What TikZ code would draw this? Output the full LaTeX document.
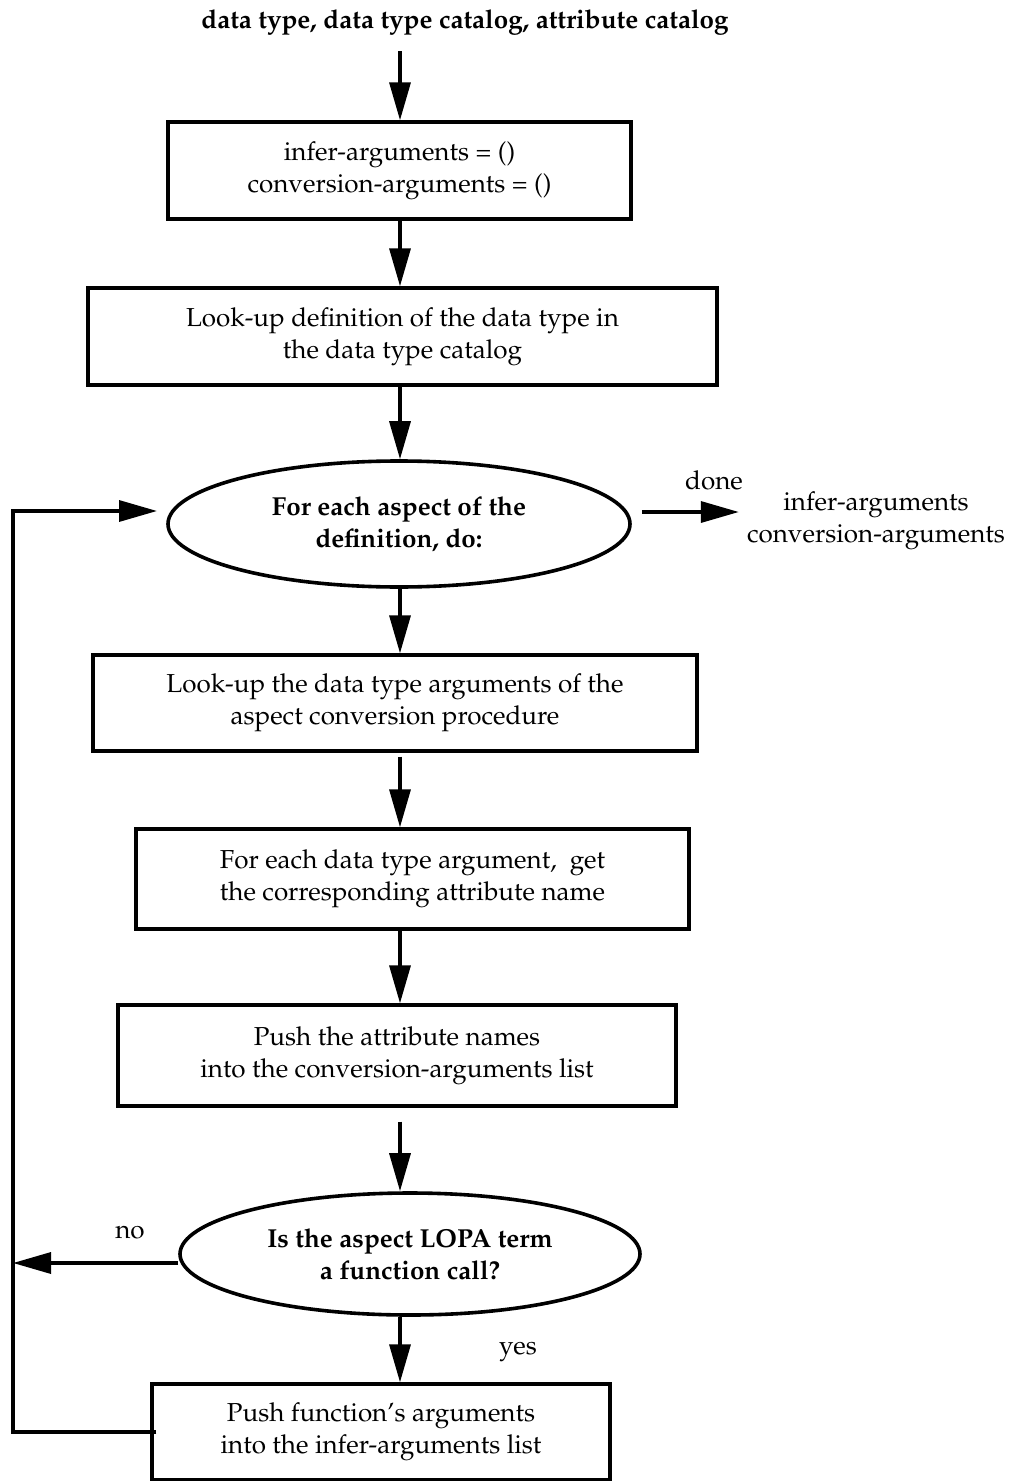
\documentclass[tikz,border=0pt]{standalone}
\usepackage[T1]{fontenc}
\usetikzlibrary{shapes.geometric,arrows.meta,calc}
\renewcommand{\rmdefault}{ppl}
\begin{document}
\begin{tikzpicture}[x=0.5pt,y=-0.5pt,
  every node/.style={font=\fontsize{13}{16}\selectfont, align=center, inner sep=0pt},
  stepbox/.style={draw, rectangle, line width=1.7pt},
  loopnode/.style={draw, ellipse, line width=1.8pt, font=\fontsize{13}{16}\selectfont\bfseries},
  arr/.style={line width=1.7pt, -{Triangle[length=19pt,width=10.5pt]}},
  plain/.style={font=\fontsize{13}{16}\selectfont}]
\useasboundingbox (0,0) rectangle (1011,1481);

% input data
\node[font=\fontsize{13}{16}\selectfont\bfseries] (in) at (465,22) {data type, data type catalog, attribute catalog};

% main column
\node[stepbox, minimum width=231.5pt, minimum height=48.5pt] (b1) at (399.5,170.5)
  {infer-arguments = ()\\conversion-arguments = ()};
\node[stepbox, minimum width=314.5pt, minimum height=48.5pt] (b2) at (402.5,336.5)
  {Look-up definition of the data type in\\the data type catalog};
\node[loopnode, minimum width=231pt, minimum height=63pt] (e1) at (399,524)
  {For each aspect of the\\definition, do:};
\node[stepbox, minimum width=302pt, minimum height=48pt] (b3) at (395,703)
  {Look-up the data type arguments of the\\aspect conversion procedure};
\node[stepbox, minimum width=276.5pt, minimum height=50pt] (b4) at (412.5,879)
  {For each data type argument,\ \ get\\the corresponding attribute name};
\node[stepbox, minimum width=279pt, minimum height=50.5pt] (b5) at (397,1055.5)
  {Push the attribute names\\into the conversion-arguments list};
\node[loopnode, minimum width=230pt, minimum height=61pt] (e2) at (410,1254)
  {Is the aspect LOPA term\\a function call?};
\node[stepbox, minimum width=229pt, minimum height=48pt] (b6) at (381,1432)
  {Push function's arguments\\into the infer-arguments list};

% result of the loop
\node[plain] (out) at (876,521) {infer-arguments\\conversion-arguments};
\node[plain] (done) at (714,480) {done};
\node[plain] (no) at (130,1232) {no};
\node[plain] (yes) at (518,1352) {yes};

% arrow axis and loop corners
\coordinate (ax) at (400,0);
\coordinate (lc) at (13,511);
\coordinate (lpend) at (157,511);

% vertical flow
\draw[arr] (in.south -| ax) ++(0,-8pt) coordinate (a0) (a0) -- (b1.north -| ax);
\draw[arr] (b1.south -| ax) -- (b2.north -| ax);
\draw[arr] (b2.south -| ax) -- (e1.north -| ax);
\draw[arr] (e1.south -| ax) -- (b3.north -| ax);
\draw[arr] ([yshift=-2pt]b3.south -| ax) -- (b4.north -| ax);
\draw[arr] (b4.south -| ax) -- (b5.north -| ax);
\draw[arr] ([yshift=-7pt]b5.south -| ax) -- (e2.north -| ax);
\draw[arr] (e2.south -| ax) -- (b6.north -| ax);

% loop exit
\draw[arr] ([shift={(5pt,6pt)}]e1.east) -- ++(48.5pt,0);

% "no" branch and loop back
\draw[arr] ([yshift=-4.5pt]e2.west) -- ([yshift=-4.5pt]e2.west -| lc);
\draw[arr] ([xshift=3pt]b6.west) -| (lc) -- (lpend);
\end{tikzpicture}
\end{document}
